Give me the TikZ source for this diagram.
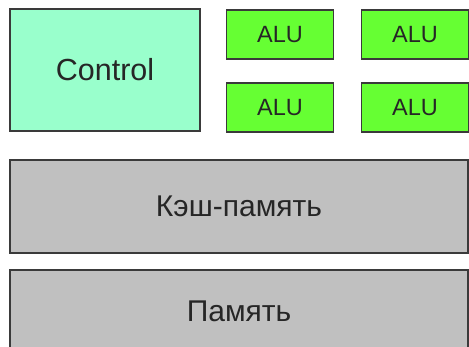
\documentclass[tikz,border=0pt]{standalone}
\usepackage{fontspec}
\setmainfont{Liberation Sans}
\usepackage{tikz}
\definecolor{ctrlgreen}{HTML}{99FFCC}
\definecolor{alugreen}{HTML}{66FF33}
\definecolor{memgray}{HTML}{C0C0C0}
\definecolor{edgegray}{HTML}{3A3A3A}
\begin{document}
\begin{tikzpicture}[x=1pt, y=-1pt,
	box/.style={draw=edgegray, line width=1.5pt, inner sep=0pt, text=black!85},
	alubox/.style={box, fill=alugreen, minimum width=107pt, minimum height=49pt, font=\fontsize{23.5}{23.5}\selectfont}]
	\useasboundingbox (0,0) rectangle (469,347);
	\node[box, fill=ctrlgreen, minimum width=190pt, minimum height=122pt, font=\fontsize{30.5}{30.5}\selectfont] (ctrl) at (105,70) {Control};
	\node[alubox] (alu1) at (280,34.5) {ALU};  \node[alubox] (alu2) at (415,34.5) {ALU};
	\node[alubox] (alu3) at (280,107.5) {ALU}; \node[alubox] (alu4) at (415,107.5) {ALU};
	\node[box, fill=memgray, minimum width=458pt, minimum height=93pt, font=\fontsize{30}{30}\selectfont] (cache) at (239,206.5) {Кэш-память};
	\node[box, fill=memgray, minimum width=458pt, minimum height=82pt, font=\fontsize{30}{30}\selectfont] (mem) at (239,311) {Память};
\end{tikzpicture}
\end{document}
